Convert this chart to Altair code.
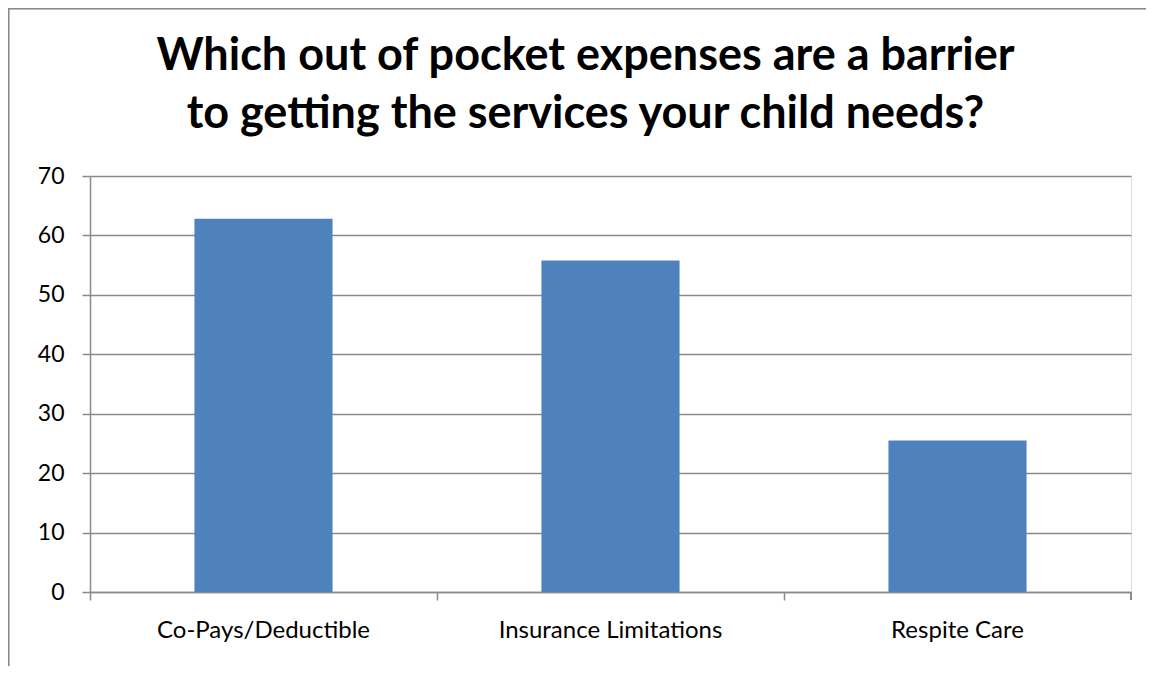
import altair as alt
import pandas as pd

categories = ["Co-Pays/Deductible", "Insurance Limitations", "Respite Care"]
values = [62.8, 55.8, 25.5]
y_ticks = [0, 10, 20, 30, 40, 50, 60, 70]
title_lines = ["Which out of pocket expenses are a barrier",
               "to getting the services your child needs?"]

df = pd.DataFrame({"category": categories, "value": values})

W, H = 1041, 416
GRAY = "#8a8a8a"
FONT = "Lato"

x_enc = alt.X("category:N", sort=categories, title=None,
              scale=alt.Scale(paddingInner=0, paddingOuter=0),
              axis=alt.Axis(labelAngle=0, labelFont=FONT, labelFontSize=24,
                            labelColor="black", labelPadding=18, labelLimit=0,
                            domainColor=GRAY, domainWidth=1.5,
                            tickColor=GRAY, tickWidth=1.5, tickSize=8,
                            bandPosition=0, grid=False))
y_enc = alt.Y("value:Q", title=None,
              scale=alt.Scale(domain=[0, 70], nice=False),
              axis=alt.Axis(values=y_ticks, labelFont=FONT, labelFontSize=23,
                            labelColor="black", labelPadding=18,
                            domainColor=GRAY, domainWidth=1.5,
                            tickColor=GRAY, tickWidth=1.5, tickSize=8,
                            grid=True, gridColor=GRAY, gridWidth=1.5))

bars = alt.Chart(df).mark_bar(color="#4f81bd",
                              width=alt.RelativeBandSize(0.398)).encode(
    x=x_enc, y=y_enc)

# last category-boundary tick at the right end of the x axis
end_tick = alt.Chart(df).mark_rule(color=GRAY, strokeWidth=1.5).encode(
    x=alt.value(W), y=alt.value(H), y2=alt.value(H + 8))

# outer chart frame
frame_left = alt.Chart(df).mark_rule(color=GRAY, strokeWidth=1.5).encode(
    x=alt.value(-81.5), y=alt.value(-167.5), y2=alt.value(H + 80))
frame_top = alt.Chart(df).mark_rule(color=GRAY, strokeWidth=1.5).encode(
    x=alt.value(-81.5), x2=alt.value(W + 20), y=alt.value(-167.5))

chart = alt.layer(bars, end_tick, frame_left, frame_top).properties(
    width=W, height=H,
    title=alt.Title(title_lines, font=FONT, fontSize=45, fontWeight="bold",
                    color="black", lineHeight=58, anchor="middle",
                    baseline="top", dx=-25, dy=129, offset=0),
    autosize=alt.AutoSizeParams(type="none"),
    padding={"left": 82, "top": 168, "right": 15, "bottom": 74},
).configure_view(stroke=None).configure(background="white")

chart.save("out.html", embed_options={"renderer": "svg", "actions": False})
